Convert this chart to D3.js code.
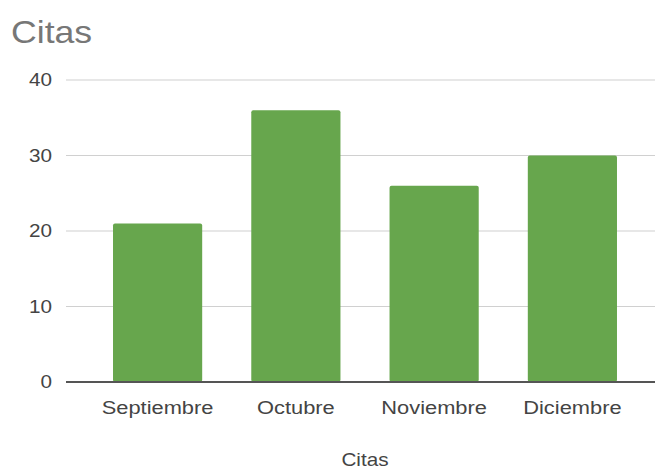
<!DOCTYPE html>
<html>
<head>
<meta charset="utf-8">
<script src="https://cdn.jsdelivr.net/npm/d3@7"></script>
<style>
  body { margin: 0; background: #fff; }
  text { font-family: "Liberation Sans", Arial, sans-serif; }
</style>
</head>
<body>
<svg id="chart" width="655" height="472"></svg>
<script>
// chart data
let months = ["Septiembre", "Octubre", "Noviembre", "Diciembre"];
let citas = [21, 36, 26, 30];
let yTicks = [0, 10, 20, 30, 40];

let svg = d3.select("#chart");
let stretch = 1.15;  // text in the reference is a bit wide

let x = d3.scaleBand()
    .domain(months)
    .range([66, 664])
    .paddingInner(0.355)
    .paddingOuter(0.34);

let y = d3.scaleLinear()
    .domain([0, 40])
    .range([382, 80]);

function putText(sel, px, py) {
    sel.attr("transform", `translate(${px},${py}) scale(${stretch},1)`);
}

// gridlines
svg.append("g").selectAll("line")
    .data(yTicks.filter(d => d > 0))
    .join("line")
    .attr("x1", 66).attr("x2", 655)
    .attr("y1", d => y(d)).attr("y2", d => y(d))
    .attr("stroke", "#d0d0d0")
    .attr("stroke-width", 1.2);

// bars
svg.append("g").selectAll("rect")
    .data(months)
    .join("rect")
    .attr("x", d => x(d))
    .attr("width", x.bandwidth())
    .attr("y", (d, i) => y(citas[i]))
    .attr("height", (d, i) => y(0) - y(citas[i]))
    .attr("rx", 2)
    .attr("fill", "#67a64d");

// baseline
svg.append("line")
    .attr("x1", 66).attr("x2", 655)
    .attr("y1", y(0)).attr("y2", y(0))
    .attr("stroke", "#555")
    .attr("stroke-width", 2);

// y labels
svg.append("g").selectAll("text")
    .data(yTicks)
    .join("text")
    .text(d => d)
    .attr("text-anchor", "end")
    .attr("font-size", 18)
    .attr("fill", "#444")
    .each(function(d) { putText(d3.select(this), 52, y(d) + 6); });

// x labels
svg.append("g").selectAll("text")
    .data(months)
    .join("text")
    .text(d => d)
    .attr("text-anchor", "middle")
    .attr("font-size", 19)
    .attr("fill", "#444")
    .each(function(d) { putText(d3.select(this), x(d) + x.bandwidth() / 2, 414); });

// title
putText(svg.append("text")
    .text("Citas")
    .attr("font-size", 31)
    .attr("fill", "#777"), 11, 43);

// axis title
putText(svg.append("text")
    .text("Citas")
    .attr("text-anchor", "middle")
    .attr("font-size", 18)
    .attr("fill", "#444"), 365, 466);
</script>
</body>
</html>
